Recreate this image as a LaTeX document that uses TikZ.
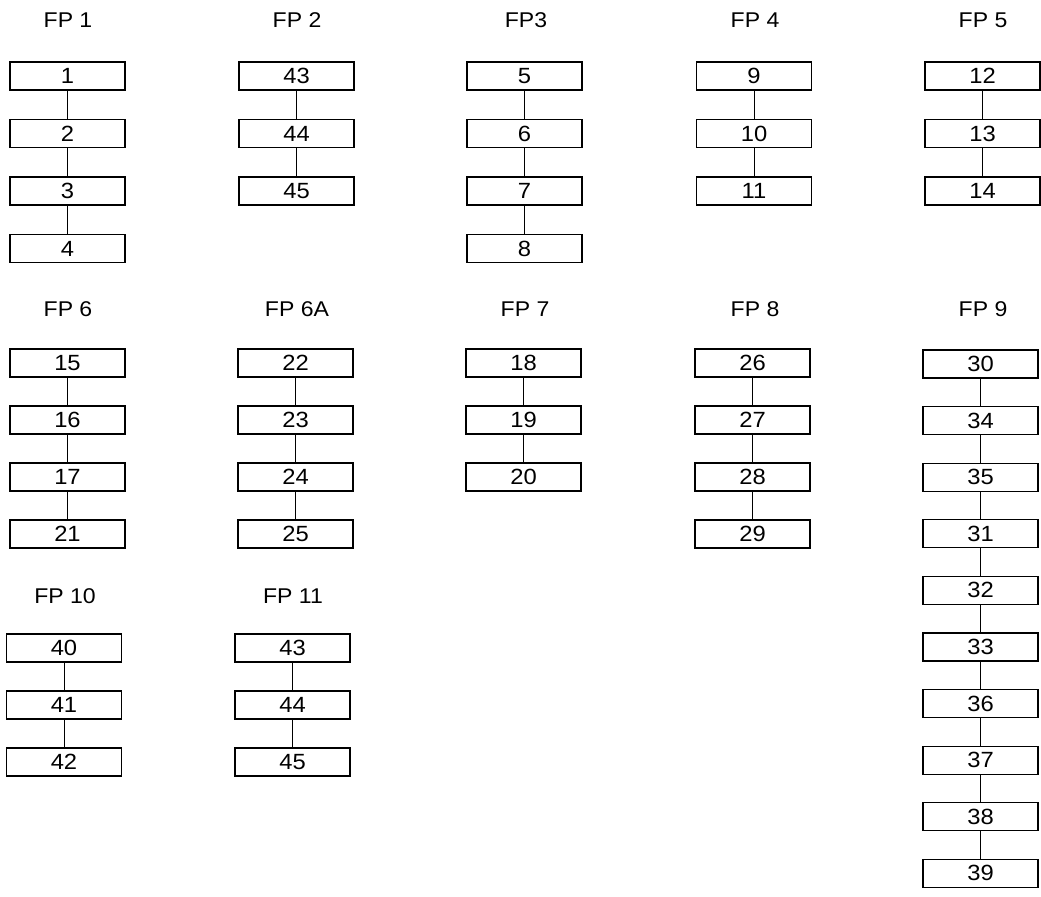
\documentclass[tikz,border=0pt]{standalone}
\usepackage{fontspec}
\setmainfont{Liberation Sans}[FakeStretch=1.08]
\begin{document}
\begin{tikzpicture}[x=0.75pt,y=-0.75pt]
\tikzset{
  box/.style={draw, line width=0.9pt, minimum width=86.25pt, minimum height=21pt, inner sep=0pt, font=\fontsize{16.5}{16.5}\selectfont},
  title/.style={inner sep=0pt, font=\fontsize{16}{16}\selectfont},
  link/.style={line width=0.6pt}
}
\newcommand\fpchain[5]{%
  \foreach \lab [count=\i] in {#5} {
    \node[box] (#1-\i) at (#2, {#3+(\i-1)*#4}) {\lab};
    \ifnum\i>1
      \pgfmathtruncatemacro\j{\i-1}
      \draw[link] (#1-\j) -- (#1-\i);
    \fi
  }%
}
\useasboundingbox (0,0) rectangle (1041,896);
% row 1
\node[title] (t1) at (68,20) {FP 1};
\node[title] (t2) at (297,20) {FP 2};
\node[title] (t3) at (526,20) {FP3};
\node[title] (t4) at (755,20) {FP 4};
\node[title] (t5) at (983,20) {FP 5};
\fpchain{a}{67.5}{76}{57.5}{1,2,3,4}
\fpchain{b}{296.5}{76}{57.5}{43,44,45}
\fpchain{c}{524.5}{76}{57.5}{5,6,7,8}
\fpchain{d}{754}{76}{57.5}{9,10,11}
\fpchain{e}{982.5}{76}{57.5}{12,13,14}
% row 2
\node[title] (t6) at (68,309) {FP 6};
\node[title] (t6a) at (297,309) {FP 6A};
\node[title] (t7) at (525,309) {FP 7};
\node[title] (t8) at (755,309) {FP 8};
\node[title] (t9) at (983,309) {FP 9};
\fpchain{f}{67.5}{363}{57}{15,16,17,21}
\fpchain{g}{295.5}{363}{57}{22,23,24,25}
\fpchain{h}{523.5}{363}{57}{18,19,20}
\fpchain{k}{752.5}{363}{57}{26,27,28,29}
\fpchain{m}{980.5}{364}{56.6}{30,34,35,31,32,33,36,37,38,39}
% row 3
\node[title] (t10) at (65,596) {FP 10};
\node[title] (t11) at (293,596) {FP 11};
\fpchain{n}{64}{648}{57}{40,41,42}
\fpchain{p}{292.5}{648}{57}{43,44,45}
\end{tikzpicture}
\end{document}
